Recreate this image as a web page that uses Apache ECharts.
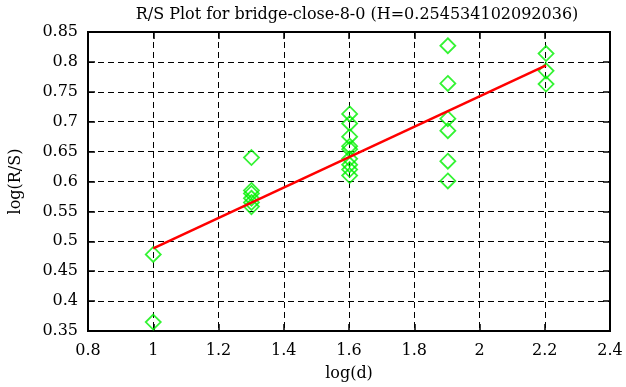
<!DOCTYPE html>
<html>
<head>
<meta charset="utf-8">
<script src="https://cdn.jsdelivr.net/npm/echarts@6/dist/echarts.min.js"></script>
<style>html,body{margin:0;padding:0;background:#fff}#c{width:626px;height:387px}</style>
</head>
<body>
<div id="c"></div>
<script>
var titleText = 'R/S Plot for bridge-close-8-0 (H=0.254534102092036)';
var xName = 'log(d)';
var yName = 'log(R/S)';
var logD = [1, 1,
  1.301, 1.301, 1.301, 1.301, 1.301, 1.301,
  1.602, 1.602, 1.602, 1.602, 1.602, 1.602, 1.602, 1.602, 1.602,
  1.903, 1.903, 1.903, 1.903, 1.903, 1.903,
  2.204, 2.204, 2.204];
var logRS = [0.478, 0.365,
  0.640, 0.585, 0.580, 0.572, 0.565, 0.558,
  0.713, 0.697, 0.675, 0.659, 0.654, 0.638, 0.628, 0.620, 0.610,
  0.827, 0.764, 0.705, 0.685, 0.634, 0.601,
  0.814, 0.785, 0.763];
var fitX = [1, 2.204];
var fitY = [0.488, 0.794];

var pts = logD.map(function (x, i) { return [x, logRS[i]]; });
var fit = fitX.map(function (x, i) { return [x, fitY[i]]; });

var font = 'DejaVu Serif';
var lbl = { color: '#000', fontFamily: font, fontSize: 16 };
var dashed = { lineStyle: { color: '#000', type: [6, 4], width: 1 } };

var chart = echarts.init(document.getElementById('c'), null, { renderer: 'canvas' });
chart.setOption({
  animation: false,
  backgroundColor: '#fff',
  title: {
    text: titleText, left: 352, textAlign: 'center', top: 2,
    textStyle: { fontFamily: font, fontWeight: 'normal', fontSize: 16, color: '#000' }
  },
  grid: { left: 82, right: 16, top: 32, bottom: 54, show: true, borderColor: '#000', borderWidth: 2 },
  xAxis: [{
    type: 'value', min: 0.8, max: 2.4, interval: 0.2,
    name: xName, nameLocation: 'middle', nameGap: 35,
    nameTextStyle: { fontFamily: font, fontSize: 16, color: '#000' },
    axisLine: { lineStyle: { color: '#000', width: 2 } },
    axisTick: { inside: true, length: 7, lineStyle: { color: '#000', width: 1.5 } },
    axisLabel: Object.assign({ margin: 12 }, lbl),
    splitLine: Object.assign({ show: true }, dashed)
  }, {
    type: 'value', position: 'top', min: 0.8, max: 2.4, interval: 0.2,
    axisLine: { show: false },
    axisTick: { inside: true, length: 7, lineStyle: { color: '#000', width: 1.5 } },
    axisLabel: { show: false }, splitLine: { show: false }
  }],
  yAxis: [{
    type: 'value', min: 0.35, max: 0.85, interval: 0.05,
    name: yName, nameLocation: 'middle', nameGap: 64, nameRotate: 90,
    nameTextStyle: { fontFamily: font, fontSize: 16, color: '#000' },
    axisLine: { show: true, lineStyle: { color: '#000', width: 2 } },
    axisTick: { show: true, inside: true, length: 7, lineStyle: { color: '#000', width: 1.5 } },
    axisLabel: Object.assign({ margin: 10 }, lbl),
    splitLine: Object.assign({ show: true }, dashed)
  }, {
    type: 'value', position: 'right', min: 0.35, max: 0.85, interval: 0.05,
    axisLine: { show: false },
    axisTick: { show: true, inside: true, length: 7, lineStyle: { color: '#000', width: 1.5 } },
    axisLabel: { show: false }, splitLine: { show: false }
  }],
  series: [{
    type: 'scatter', data: pts, symbol: 'diamond', symbolSize: [15, 15],
    itemStyle: { color: 'transparent', borderColor: '#00f000', borderWidth: 1.8 },
    z: 3
  }, {
    type: 'line', data: fit, symbol: 'none',
    lineStyle: { color: '#ff0000', width: 2.5 }, z: 4
  }]
});
</script>
</body>
</html>
